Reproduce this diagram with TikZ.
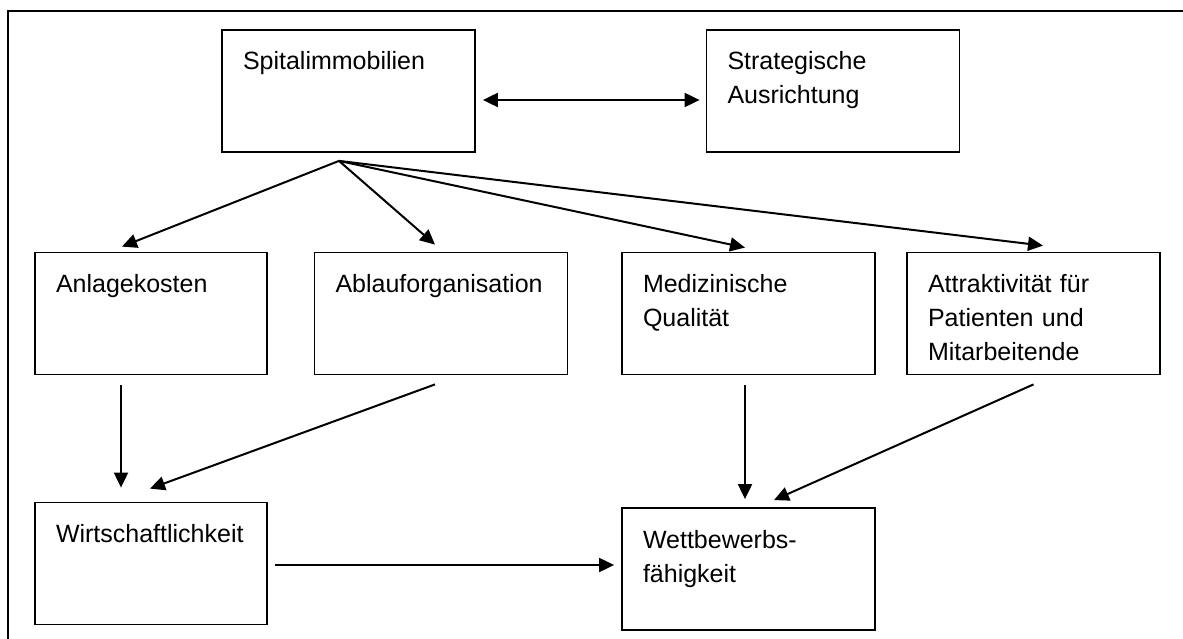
\documentclass[tikz,border=0pt]{standalone}
\usepackage{fontspec}
\setmainfont{Liberation Sans}
\usepackage{tikz}
\usetikzlibrary{arrows.meta,positioning}
\tikzset{box/.style={draw, line width=1.8pt, inner xsep=21pt, inner ysep=0pt,
    text width=211pt, text height=40pt, text depth=82pt, align=left,
    font=\fontsize{25pt}{34pt}\selectfont},
  arr/.style={line width=2pt, -{Triangle[length=15pt,width=14pt]}}}

\begin{document}
\begin{tikzpicture}[x=1pt, y=-1pt]
                \useasboundingbox (0,0) rectangle (1183,639);
                % frame, cut at the right and bottom
                \draw[line width=1.8pt] (8,639) -- (8,11);
                \draw[line width=2.4pt] (7.1,11) -- (1183,11);

                \node[box] (spital) at (348.5,91) {Spitalimmobilien};
                \node[box] (strat) [right of = spital, node distance=484.5pt] {Strategische\\Ausrichtung};

                \node[box, text width=190pt] (anlage) at (151,313.5) {Anlagekosten};
                \node[box] (ablauf) [right of = anlage, node distance=290pt] {Ablauforganisation};
                \node[box] (med) [right of = ablauf, node distance=307.5pt] {Medizinische\\Qualit\"at};
                \node[box] (attr) [right of = med, node distance=285pt] {Attraktivit\"at f\"ur\\Patienten und\\Mitarbeitende};

                \node[box, text width=190pt] (wirt) [below of = anlage, node distance=250pt] {Wirtschaftlichkeit};
                \node[box] (wett) [below of = med, node distance=255.5pt] {Wettbewerbs-\\f\"ahigkeit};

                \coordinate (fan) at ([xshift=-9.5pt,yshift=-8pt]spital.south);

                \draw[line width=2pt, {Triangle[length=15pt,width=14pt]}-{Triangle[length=15pt,width=14pt]}]
                    ([xshift=7pt,yshift=-9pt]spital.east) -- ([xshift=-6pt,yshift=-9pt]strat.west);

                \draw[arr] (fan) -- ([xshift=-29pt,yshift=5pt]anlage.north);
                \draw[arr] (fan) -- ([xshift=-6pt,yshift=7pt]ablauf.north);
                \draw[arr] (fan) -- ([xshift=-3.5pt,yshift=4pt]med.north);
                \draw[arr] (fan) -- ([xshift=9.5pt,yshift=6pt]attr.north);

                \draw[arr] ([xshift=-30pt,yshift=-10pt]anlage.south) -- ([xshift=-30pt,yshift=14pt]wirt.north);
                \draw[arr] ([xshift=-6pt,yshift=-9pt]ablauf.south) -- ([xshift=-1pt,yshift=13pt]wirt.north);
                \draw[arr] ([xshift=-3.5pt,yshift=-10pt]med.south) -- ([xshift=-3.5pt,yshift=8pt]wett.north);
                \draw[arr] ([yshift=-9pt]attr.south) -- ([xshift=25.5pt,yshift=7pt]wett.north);
                \draw[arr] ([xshift=6.6pt,yshift=-1.5pt]wirt.east) -- ([xshift=-7pt,yshift=4pt]wett.west);
\end{tikzpicture}
\end{document}
